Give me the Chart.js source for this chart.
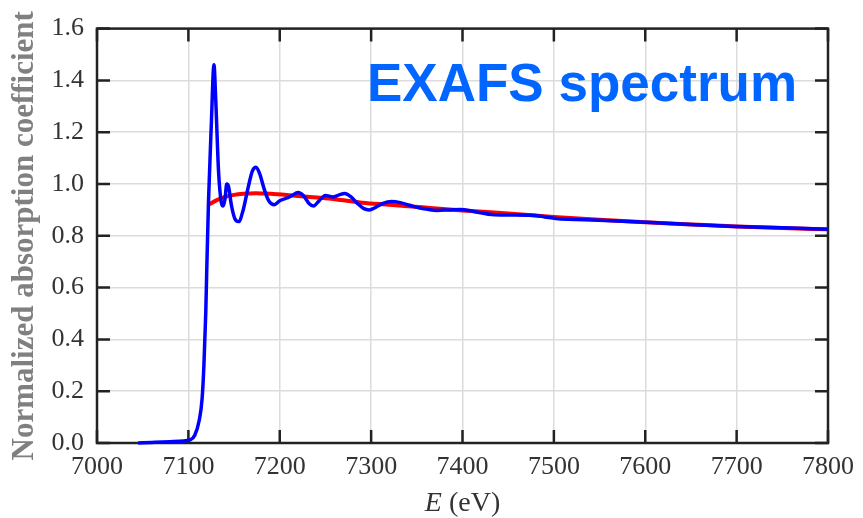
<!DOCTYPE html>
<html>
<head>
<meta charset="utf-8">
<script src="https://cdn.jsdelivr.net/npm/chart.js@4/dist/chart.umd.min.js"></script>
<style>
html,body{margin:0;padding:0;background:#fff;}
#wrap{width:863px;height:518px;position:relative;}
</style>
</head>
<body>
<div id="wrap"><canvas id="c" width="863" height="518"></canvas></div>
<script>
// Measured spectrum (blue) – energy in eV and normalized absorption
const blueEnergy = [7045,7060,7080,7095,7102,7107,7112,7115,7117,7119,7120,7122,7125,7128,7130,7133,7136,7138,7140,7142,7144,7147,7151,7155,7160,7165,7170,7174,7178,7183,7188,7194,7200,7207,7213,7220,7226,7232,7237,7243,7250,7258,7265,7271,7278,7285,7292,7298,7305,7313,7322,7332,7342,7352,7362,7372,7385,7398,7410,7420,7432,7450,7476,7490,7502,7550,7601,7650,7699,7750,7800];
const blueMu = [0.000,0.002,0.005,0.008,0.012,0.03,0.09,0.17,0.30,0.50,0.65,0.93,1.22,1.46,1.32,1.05,0.93,0.915,0.94,1.00,0.99,0.92,0.865,0.855,0.90,0.98,1.05,1.065,1.04,0.98,0.935,0.92,0.935,0.945,0.955,0.967,0.955,0.925,0.915,0.935,0.956,0.95,0.958,0.963,0.95,0.925,0.905,0.90,0.91,0.925,0.932,0.928,0.918,0.908,0.902,0.898,0.900,0.902,0.896,0.889,0.882,0.880,0.879,0.873,0.867,0.860,0.852,0.844,0.836,0.831,0.825];
// Smooth atomic background (red)
const redEnergy = [7123,7130,7140,7150,7160,7174,7190,7210,7230,7250,7270,7290,7320,7356,7400,7450,7500,7550,7600,7650,7700,7750,7800];
const redMu = [0.922,0.936,0.950,0.958,0.962,0.964,0.962,0.957,0.951,0.945,0.937,0.928,0.920,0.910,0.898,0.886,0.873,0.862,0.852,0.844,0.836,0.830,0.825];
// Axis ticks
const xTicks = [7000,7100,7200,7300,7400,7500,7600,7700,7800];
const yTicks = [0.0,0.2,0.4,0.6,0.8,1.0,1.2,1.4,1.6];
const chartTitle = 'EXAFS spectrum';
const yTitle = 'Normalized absorption coefficient';

const toPts = (xs, ys) => xs.map((x, i) => ({x: x, y: ys[i]}));

const framePlugin = {
  id: 'frame',
  beforeDatasetsDraw(chart) {
    const {ctx, chartArea: a, scales: {x, y}} = chart;
    ctx.save();
    ctx.strokeStyle = '#222';
    ctx.lineWidth = 2.5;
    ctx.strokeRect(a.left, a.top, a.right - a.left, a.bottom - a.top);
    const L = 13;
    ctx.beginPath();
    xTicks.forEach(v => {
      const px = x.getPixelForValue(v);
      ctx.moveTo(px, a.bottom); ctx.lineTo(px, a.bottom - L);
      ctx.moveTo(px, a.top); ctx.lineTo(px, a.top + L);
    });
    yTicks.forEach(v => {
      const py = y.getPixelForValue(v);
      ctx.moveTo(a.left, py); ctx.lineTo(a.left + L, py);
      ctx.moveTo(a.right, py); ctx.lineTo(a.right - L, py);
    });
    ctx.stroke();
    ctx.restore();
  },
  afterDraw(chart) {
    const {ctx, chartArea: a} = chart;
    ctx.save();
    // Title inside the plot
    ctx.fillStyle = '#0066ff';
    ctx.font = 'bold 53px "Liberation Sans", Arial, sans-serif';
    ctx.textBaseline = 'alphabetic';
    ctx.textAlign = 'left';
    ctx.fillText(chartTitle, a.left + 270, a.top + 72);
    // X axis title: italic E + (eV)
    const f1 = 'italic 28px "Liberation Serif", "Times New Roman", serif';
    const f2 = '28px "Liberation Serif", "Times New Roman", serif';
    ctx.font = f1; const w1 = ctx.measureText('E').width;
    ctx.font = f2; const w2 = ctx.measureText(' (eV)').width;
    const cx = (a.left + a.right) / 2;
    const x0 = cx - (w1 + w2) / 2;
    ctx.fillStyle = '#333';
    ctx.font = f1; ctx.fillText('E', x0, 511);
    ctx.font = f2; ctx.fillText(' (eV)', x0 + w1, 511);
    ctx.restore();
  }
};

new Chart(document.getElementById('c'), {
  type: 'line',
  data: {
    datasets: [
      {
        label: 'spectrum',
        data: toPts(blueEnergy, blueMu),
        borderColor: '#0000ff',
        borderWidth: 3.5,
        pointRadius: 0,
        cubicInterpolationMode: 'monotone',
        fill: false,
        order: 1,
        clip: 6
      },
      {
        label: 'background',
        data: toPts(redEnergy, redMu),
        borderColor: '#ff0000',
        borderWidth: 4,
        pointRadius: 0,
        cubicInterpolationMode: 'monotone',
        fill: false,
        order: 2,
        clip: 6
      }
    ]
  },
  options: {
    responsive: false,
    animation: false,
    events: [],
    layout: {padding: {left: 0, right: 33, top: 28, bottom: 0}},
    plugins: {legend: {display: false}, tooltip: {enabled: false}, title: {display: false}},
    scales: {
      x: {
        type: 'linear',
        min: 7000, max: 7800,
        afterBuildTicks: s => { s.ticks = xTicks.map(v => ({value: v})); },
        afterFit: s => { s.height = 75; },
        ticks: {
          callback: v => String(v),
          color: '#333',
          padding: 9,
          maxRotation: 0,
          autoSkip: false,
          font: {family: '"Liberation Serif", "Times New Roman", serif', size: 26}
        },
        grid: {color: '#dcdcdc', lineWidth: 1.5, drawTicks: false},
        border: {display: false}
      },
      y: {
        min: 0, max: 1.6,
        afterBuildTicks: s => { s.ticks = yTicks.map(v => ({value: v})); },
        afterFit: s => { s.width = 97; },
        ticks: {
          callback: v => Number(v).toFixed(1),
          color: '#333',
          padding: 13,
          autoSkip: false,
          font: {family: '"Liberation Serif", "Times New Roman", serif', size: 26}
        },
        grid: {color: '#dcdcdc', lineWidth: 1.5, drawTicks: false},
        border: {display: false},
        title: {
          display: true,
          text: yTitle,
          color: '#808080',
          padding: {top: 6, bottom: 0},
          font: {family: '"Liberation Serif", "Times New Roman", serif', size: 31, weight: 'bold', lineHeight: 1.2}
        }
      }
    }
  },
  plugins: [framePlugin]
});
</script>
</body>
</html>
